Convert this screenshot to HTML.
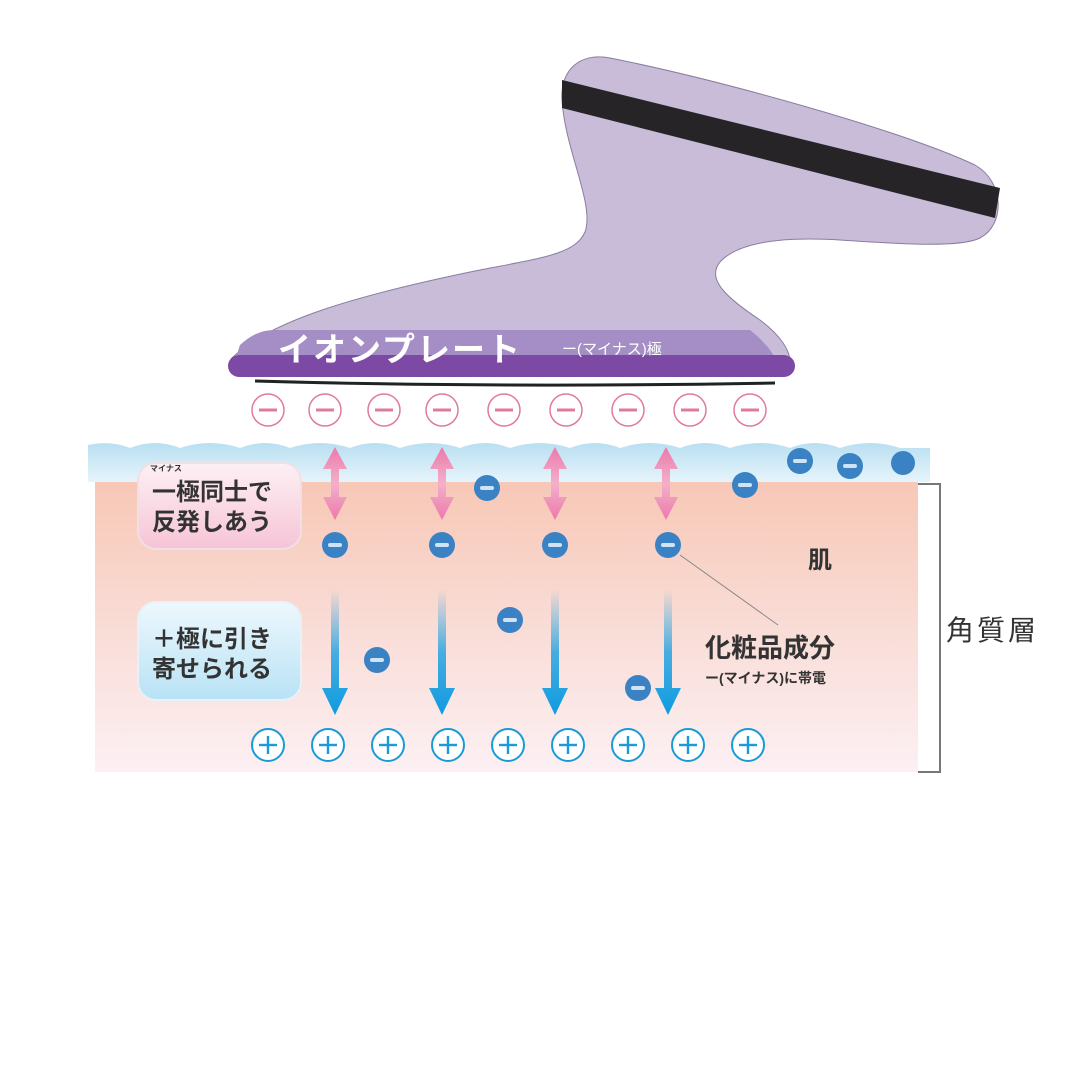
<!DOCTYPE html>
<html><head><meta charset="utf-8"><style>
html,body{margin:0;padding:0;background:#fff}
svg{display:block}
text{font-family:"Liberation Sans","Noto Sans CJK JP",sans-serif}
</style></head><body>
<svg width="1080" height="1080" viewBox="0 0 1080 1080" xmlns="http://www.w3.org/2000/svg">
<defs>
<linearGradient id="skin" x1="0" y1="0" x2="0" y2="1">
<stop offset="0" stop-color="#f7c7b5"/><stop offset="0.5" stop-color="#f9dcd6"/><stop offset="1" stop-color="#fcf0f3"/>
</linearGradient>
<linearGradient id="water" x1="0" y1="0" x2="0" y2="1">
<stop offset="0" stop-color="#b9dff2"/><stop offset="1" stop-color="#e6f4fb"/>
</linearGradient>
<linearGradient id="barr" x1="0" y1="0" x2="0" y2="1">
<stop offset="0" stop-color="#1aa0e0" stop-opacity="0"/><stop offset="0.5" stop-color="#1aa0e0" stop-opacity="0.8"/><stop offset="1" stop-color="#0f9ae0"/>
</linearGradient>
<linearGradient id="pbox" x1="0" y1="0" x2="0" y2="1">
<stop offset="0" stop-color="#fdf0f4"/><stop offset="1" stop-color="#f6c4d6"/>
</linearGradient>
<linearGradient id="bbox" x1="0" y1="0" x2="0" y2="1">
<stop offset="0" stop-color="#eef8fd"/><stop offset="1" stop-color="#b8e2f5"/>
</linearGradient>
<linearGradient id="parr" x1="0" y1="0" x2="0" y2="1">
<stop offset="0" stop-color="#ec79aa"/><stop offset="0.5" stop-color="#f3b0cb"/><stop offset="1" stop-color="#ec79aa"/>
</linearGradient>
<g id="pa"><path d="M0,0 L12,22 L4,22 L4,50 L12,50 L0,73 L-12,50 L-4,50 L-4,22 L-12,22 Z" fill="url(#parr)"/></g>
<g id="ba"><path d="M-4,0 L4,0 L4,98 L13,98 L0,125 L-13,98 L-4,98 Z" fill="url(#barr)"/></g>
<g id="m"><circle r="16" fill="#fff" stroke="#e07aa0" stroke-width="1.5"/><rect x="-9" y="-1.5" width="18" height="3" fill="#e07aa0"/></g>
<g id="p"><circle r="16" fill="#fff" stroke="#1a9ad6" stroke-width="2"/><rect x="-9" y="-1.2" width="18" height="2.4" fill="#1a9ad6"/><rect x="-1.2" y="-9" width="2.4" height="18" fill="#1a9ad6"/></g>
<g id="d"><circle r="13" fill="#3a82c4"/><rect x="-7" y="-2" width="14" height="4" rx="2" fill="#cfe3f5"/></g>
</defs>

<!-- skin -->
<rect x="95" y="478" width="823" height="294" fill="url(#skin)"/>
<!-- water -->
<path d="M88,482 L88,445 Q110,440 130,448 Q155,438 180,448 Q210,438 240,448 Q265,438 290,448 Q320,438 350,448 Q375,438 400,448 Q430,438 460,448 Q485,438 510,448 Q540,438 570,448 Q595,438 620,448 Q650,438 680,448 Q705,438 730,448 Q760,438 790,448 Q815,438 840,448 Q870,438 900,448 L930,448 L930,482 Z" fill="url(#water)"/>
<!-- bracket -->
<path d="M918,484 L940,484 L940,772 L918,772" fill="none" stroke="#777" stroke-width="2"/>

<!-- device -->
<path d="M232,358 C270,320 360,295 470,272 C540,258 575,255 585,232 C595,205 565,150 562,100 C560,70 580,52 610,58 C720,80 900,130 975,165 C1005,182 1005,225 980,238 C960,248 900,244 840,240 C790,237 740,240 720,262 C705,280 730,300 760,320 C780,335 790,350 790,362 Z" fill="#c8bcd9" stroke="#8a7da0" stroke-width="1"/>
<polygon points="562,80 1000,188 995,218 562,108" fill="#262426"/>
<path d="M240,345 C250,336 260,330 275,330 L750,330 C760,338 770,348 775,358 L235,360 Z" fill="#a58dc6"/>
<rect x="228" y="355" width="567" height="22" rx="11" fill="#7c4aa4"/>
<path d="M255,381 Q500,388 775,383" stroke="#222" stroke-width="3" fill="none"/>
<text x="278" y="361" font-size="33" font-weight="bold" fill="#fff" letter-spacing="2">イオンプレート</text>
<text x="562" y="354" font-size="15" fill="#fff">ー(マイナス)極</text>

<!-- minus row -->
<use href="#m" x="268" y="410"/><use href="#m" x="325" y="410"/><use href="#m" x="384" y="410"/>
<use href="#m" x="442" y="410"/><use href="#m" x="504" y="410"/><use href="#m" x="566" y="410"/>
<use href="#m" x="628" y="410"/><use href="#m" x="690" y="410"/><use href="#m" x="750" y="410"/>

<!-- pink arrows -->
<use href="#pa" x="335" y="447"/><use href="#pa" x="442" y="447"/><use href="#pa" x="555" y="447"/><use href="#pa" x="666" y="447"/>

<!-- blue arrows -->
<use href="#ba" x="335" y="590"/><use href="#ba" x="442" y="590"/><use href="#ba" x="555" y="590"/><use href="#ba" x="668" y="590"/>

<!-- leader -->
<line x1="680" y1="555" x2="778" y2="625" stroke="#888" stroke-width="1"/>

<!-- dots -->
<use href="#d" x="335" y="545"/><use href="#d" x="442" y="545"/><use href="#d" x="555" y="545"/><use href="#d" x="668" y="545"/>
<use href="#d" x="487" y="488"/><use href="#d" x="745" y="485"/><use href="#d" x="800" y="461"/><use href="#d" x="850" y="466"/>
<circle cx="903" cy="463" r="12" fill="#3a82c4"/>
<use href="#d" x="377" y="660"/><use href="#d" x="510" y="620"/><use href="#d" x="638" y="688"/>

<!-- plus row -->
<use href="#p" x="268" y="745"/><use href="#p" x="328" y="745"/><use href="#p" x="388" y="745"/>
<use href="#p" x="448" y="745"/><use href="#p" x="508" y="745"/><use href="#p" x="568" y="745"/>
<use href="#p" x="628" y="745"/><use href="#p" x="688" y="745"/><use href="#p" x="748" y="745"/>

<!-- boxes -->
<rect x="138" y="463" width="163" height="86" rx="18" fill="url(#pbox)" stroke="#f0e0e6" stroke-width="2"/>
<text x="150" y="471" font-size="8" font-weight="bold" fill="#333">マイナス</text>
<text x="152" y="500" font-size="24" font-weight="bold" fill="#333">一極同士で</text>
<text x="152" y="530" font-size="24" font-weight="bold" fill="#333">反発しあう</text>

<rect x="138" y="602" width="163" height="98" rx="18" fill="url(#bbox)" stroke="#e6f2f8" stroke-width="2"/>
<text x="152" y="647" font-size="24" font-weight="bold" fill="#333">＋極に引き</text>
<text x="152" y="677" font-size="24" font-weight="bold" fill="#333">寄せられる</text>

<!-- labels -->
<text x="808" y="568" font-size="24" font-weight="bold" fill="#333">肌</text>
<text x="705" y="657" font-size="26" font-weight="bold" fill="#333">化粧品成分</text>
<text x="705" y="683" font-size="14" font-weight="bold" fill="#333">ー(マイナス)に帯電</text>
<text x="946" y="640" font-size="28" fill="#333" letter-spacing="3">角質層</text>
</svg>
</body></html>
